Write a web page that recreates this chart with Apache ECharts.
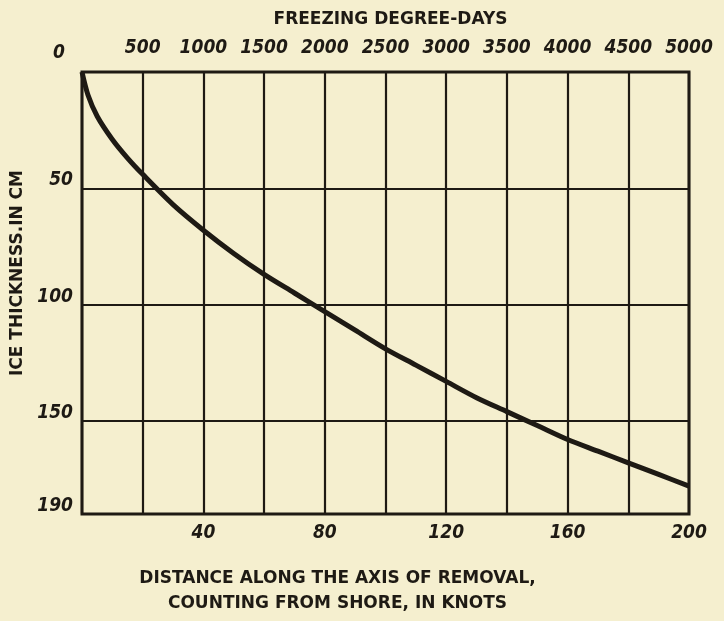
<!DOCTYPE html>
<html>
<head>
<meta charset="utf-8">
<script src="https://cdn.jsdelivr.net/npm/echarts@6/dist/echarts.min.js"></script>
<style>
html,body{margin:0;padding:0;background:#f5efcf;}
#c{width:724px;height:621px;}
</style>
</head>
<body>
<div id="c"></div>
<script>
// Distance along the axis of removal (knots)
const distanceKnots = [0, 2, 5, 10, 15, 20, 30, 40, 50, 60, 70, 80, 90, 100, 110, 120, 130, 140, 150, 160, 170, 180, 190, 200];
// Ice thickness (cm)
const iceThickness = [0, 10, 19, 29, 37, 44, 57, 68, 78, 87, 95, 103, 111, 119, 126, 133, 140, 146, 152, 158, 163, 168, 173, 178];
// Tick labels
const bottomTickLabels = [40, 80, 120, 160, 200];
const topTickLabels = [500, 1000, 1500, 2000, 2500, 3000, 3500, 4000, 4500, 5000];
const leftTickLabels = [0, 50, 100, 150, 190];

const ink = '#1e1a14';
const numFont = {
  fontFamily: "'DejaVu Sans Condensed', 'DejaVu Sans', sans-serif",
  fontStyle: 'italic',
  fontWeight: 'bold',
  fontSize: 19,
  color: ink
};
const titleFont = {
  fontFamily: "'DejaVu Sans', sans-serif",
  fontWeight: 'bold',
  fontSize: 17,
  color: ink
};

const chart = echarts.init(document.getElementById('c'));
chart.setOption({
  backgroundColor: '#f5efcf',
  animation: false,
  grid: {
    left: 82, right: 35, top: 72, bottom: 87,
    show: true, borderColor: ink, borderWidth: 3, backgroundColor: 'transparent'
  },
  xAxis: [
    {
      type: 'value', position: 'bottom', min: 0, max: 200, interval: 20,
      axisLine: { show: false }, axisTick: { show: false },
      splitLine: { show: true, lineStyle: { color: ink, width: 2.2 } },
      axisLabel: Object.assign({}, numFont, {
        margin: 10,
        formatter: v => bottomTickLabels.includes(v) ? String(v) : ''
      }),
      name: 'DISTANCE ALONG THE AXIS OF REMOVAL,\nCOUNTING FROM SHORE, IN KNOTS',
      nameLocation: 'middle', nameGap: 52,
      nameTextStyle: Object.assign({}, titleFont, { lineHeight: 25, padding: [0, 96, 0, 0] })
    },
    {
      type: 'value', position: 'top', min: 0, max: 5000, interval: 500,
      axisLine: { show: false }, axisTick: { show: false }, splitLine: { show: false },
      axisLabel: Object.assign({}, numFont, {
        margin: 14,
        formatter: v => topTickLabels.includes(v) ? String(v) : ''
      }),
      name: 'FREEZING DEGREE-DAYS',
      nameLocation: 'middle', nameGap: 44,
      nameTextStyle: Object.assign({}, titleFont, { padding: [0, 0, 0, 10] })
    }
  ],
  yAxis: {
    type: 'value', inverse: true, min: 0, max: 190, interval: 50,
    axisLine: { show: false }, axisTick: { show: false },
    splitLine: { show: true, lineStyle: { color: ink, width: 2.2 } },
    axisLabel: Object.assign({}, numFont, {
      margin: 9,
      padding: [0, 0, 16, 0],
      formatter: v => leftTickLabels.includes(v) ? (v === 0 ? '{z|0}' : String(v)) : '',
      rich: { z: Object.assign({}, numFont, { padding: [0, 8, 22, 0] }) }
    }),
    name: 'ICE THICKNESS.IN CM',
    nameLocation: 'middle', nameGap: 56, nameRotate: 90,
    nameTextStyle: Object.assign({}, titleFont, { padding: [0, 0, 0, 40] })
  },
  series: [{
    type: 'line',
    xAxisIndex: 0,
    data: distanceKnots.map((d, i) => [d, iceThickness[i]]),
    smooth: 0.3,
    showSymbol: false,
    lineStyle: { color: ink, width: 5 }
  }]
});
</script>
</body>
</html>
